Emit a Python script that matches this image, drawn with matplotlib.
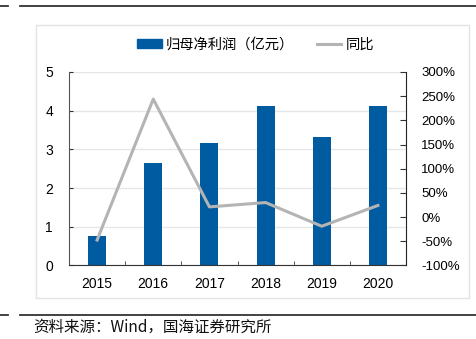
import matplotlib
matplotlib.use("Agg")
import matplotlib.pyplot as plt
from matplotlib.patches import Rectangle
from matplotlib.lines import Line2D
from matplotlib.ticker import FuncFormatter

plt.rcParams['font.family'] = ['Liberation Sans', 'Noto Sans CJK SC', 'DejaVu Sans']

years = ['2015', '2016', '2017', '2018', '2019', '2020']
profit = [0.77, 2.64, 3.16, 4.13, 3.32, 4.11]
yoy = [-47.5, 244, 21, 30, -19, 24]

W, H = 476, 339
fig = plt.figure(figsize=(W / 100, H / 100), dpi=100)

# outer frame
fig.patches.append(Rectangle((36 / W, 1 - 298 / H), (469 - 36) / W, (298 - 25) / H,
                             transform=fig.transFigure, fill=False, ec='#e3e3e3', lw=1.0))
# top / bottom rules
for yy in (6, 315):
    yf = 1 - yy / H
    fig.lines.append(Line2D([0, 8 / W], [yf, yf], transform=fig.transFigure, color='#333333', lw=1.3))
    fig.lines.append(Line2D([20 / W, 1], [yf, yf], transform=fig.transFigure, color='#333333', lw=1.3))

ax = fig.add_axes([69 / W, 1 - 265.4 / H, (406 - 69) / W, (265.4 - 72) / H])
x = list(range(len(years)))
ax.bar(x, profit, width=0.32, color='#005BA1', zorder=2)
ax.set_xlim(-0.5, 5.5)
ax.set_ylim(0, 5)
ax.set_yticks([0, 1, 2, 3, 4, 5])
ax.set_xticks(x)
ax.set_xticklabels(years)
ax.set_xticks([0.5 + i for i in range(5)], minor=True)
ax.tick_params(axis='x', which='major', length=0, pad=8, labelsize=10, colors='#000000')
ax.tick_params(axis='x', which='minor', length=3, direction='in', color='#333333')
ax.tick_params(axis='y', length=3, direction='in', labelsize=10, color='#333333')
for lab in ax.get_yticklabels():
    lab.set_horizontalalignment('left')
ax.yaxis.set_tick_params(pad=17)
ax.grid(axis='y', color='#e6e6e6', lw=1.0, zorder=0)
ax.set_axisbelow(True)
ax.spines['top'].set_visible(False)
ax.spines['left'].set_color('#555555')
ax.spines['bottom'].set_color('#333333')
ax.spines['right'].set_visible(False)

ax2 = ax.twinx()
ax2.plot(x, yoy, color='#B4B4B4', lw=2.2, zorder=3)
ax2.set_ylim(-100, 300)
ax2.set_yticks(list(range(-100, 301, 50)))
ax2.yaxis.set_major_formatter(FuncFormatter(lambda v, p: f"{int(v)}%"))
ax2.tick_params(axis='y', length=4, direction='in', pad=11, labelsize=9.5, color='#333333')
for s in ('top', 'left', 'bottom'):
    ax2.spines[s].set_visible(False)
ax2.spines['right'].set_color('#222222')

handles = [Rectangle((0, 0), 1, 1, color='#005BA1'),
           Line2D([], [], color='#B4B4B4', lw=2.2)]
fig.legend(handles, ['归母净利润（亿元）', '同比'], loc='center', bbox_to_anchor=(0.537, 1 - 45 / H),
           ncol=2, frameon=False, handlelength=1.7, handleheight=0.6,
           columnspacing=1.6, handletextpad=0.3, prop={'family': ['Noto Sans CJK SC'], 'size': 10.3})

fig.text(33 / W, 1 - 327 / H, '资料来源：Wind，国海证券研究所', fontsize=11.2,
         family=['Noto Sans CJK SC', 'DejaVu Sans'], va='center', ha='left', color='#111111')

fig.savefig('out.png', dpi=100)
